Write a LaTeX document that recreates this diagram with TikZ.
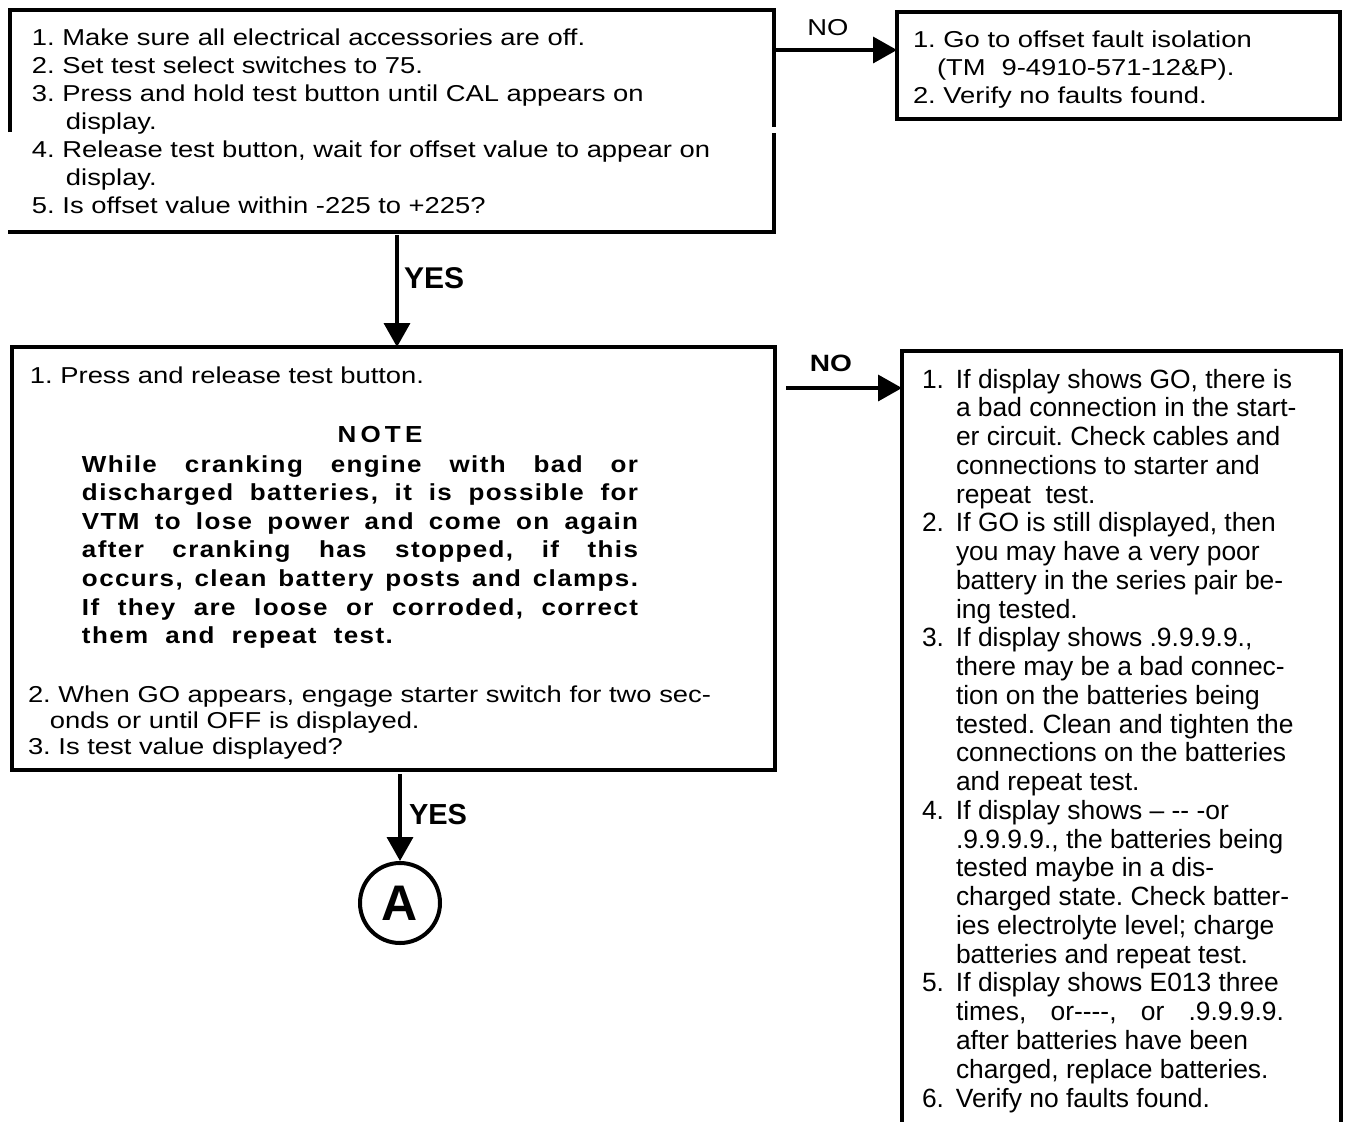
\documentclass[tikz,border=0pt]{standalone}
\usepackage{fontspec}
\setmainfont{Liberation Sans}
\newfontfamily\wfont[FakeStretch=1.19]{Liberation Sans}
\newfontfamily\nfont[FakeStretch=1.12,LetterSpace=6]{Liberation Sans}
\newfontfamily\hfont[FakeStretch=1.12,LetterSpace=18]{Liberation Sans}
\usetikzlibrary{arrows.meta,fit}
\frenchspacing
\newcommand\bxitm[1]{\makebox[17pt][l]{#1}}
\newcommand\bxind{\hspace*{17pt}}
\newcommand\njust[1]{\makebox[278pt][s]{#1}}
\tikzset{
  area/.style={inner sep=0pt, outer sep=0pt},
  border/.style={line width=2.4pt, line join=miter},
  arr/.style={line width=1.8pt, -{Triangle[length=12pt,width=13pt]}},
  txt/.style={anchor=north west, inner sep=0pt, outer sep=0pt, align=left},
  wtxt/.style={txt, font=\wfont\fontsize{11.5pt}{14pt}\selectfont},
  ntxt/.style={txt, font=\nfont\bfseries\fontsize{11.6pt}{14.3pt}\selectfont},
  rtxt/.style={txt, font=\fontsize{13.2pt}{14.38pt}\selectfont},
  lbl/.style={inner sep=0pt, outer sep=0pt, anchor=base west}
}
\begin{document}
\begin{tikzpicture}[x=0.5pt,y=-0.5pt]
\useasboundingbox (0,0) rectangle (1346,1121);

% box areas
\coordinate (b1nw) at (10,10);   \coordinate (b1se) at (774,232);
\coordinate (b2nw) at (897,12);  \coordinate (b2se) at (1340,119);
\coordinate (b3nw) at (12,347);  \coordinate (b3se) at (775,770);
\coordinate (b4nw) at (902,351); \coordinate (b4se) at (1341,1121);
\node[area, fit=(b1nw)(b1se)] (b1) {};
\node[area, fit=(b2nw)(b2se)] (b2) {};
\node[area, fit=(b3nw)(b3se)] (b3) {};
\node[area, fit=(b4nw)(b4se)] (b4) {};

% borders
\draw[border] (10,132) -- (b1nw) -- (774,10) -- (774,127);
\draw[border] (774,133) -- (b1se) -- (8,232);
\draw[border] (b2nw) rectangle (b2se);
\draw[border] (b3nw) rectangle (b3se);
\draw[border] (902,1125) -- (b4nw) -- (1341,351) -- (1341,1125);

% box 1 text
\node[wtxt] (t1) at (32,25) {\rule{0pt}{10pt}1. Make sure all electrical accessories are off.\\
2. Set test select switches to 75.\\
3. Press and hold test button until CAL appears on\\
\hspace*{17pt}display.\\
4. Release test button, wait for offset value to appear on\\
\hspace*{17pt}display.\\
5. Is offset value within -225 to +225?};

% box 2 text
\node[wtxt] (t2) at (913,27) {\rule{0pt}{10pt}1. Go to offset fault isolation\\
\hspace*{12pt}(TM\hspace{8pt}9-4910-571-12\&P).\\
2. Verify no faults found.};

% box 3 text
\node[wtxt] (t3a) at (30,363) {\rule{0pt}{10pt}1. Press and release test button.};
\node[inner sep=0pt, anchor=base, font=\hfont\bfseries\fontsize{11.6pt}{14pt}\selectfont] (t3h) at (380,442) {NOTE};
\node[ntxt] (t3n) at (82,452) {\rule{0pt}{10pt}\njust{While cranking engine with bad or}\\
\njust{discharged batteries, it is possible for}\\
\njust{VTM to lose power and come on again}\\
\njust{after cranking has stopped, if this}\\
\njust{occurs, clean battery posts and clamps.}\\
\njust{If they are loose or corroded, correct}\\
them\ \ and\ \ repeat\ \ test.};
\node[wtxt, font=\wfont\fontsize{11.5pt}{13pt}\selectfont] (t3b) at (28,682) {\rule{0pt}{10pt}2. When GO appears, engage starter switch for two sec-\\
\hspace*{11pt}onds or until OFF is displayed.\\
3. Is test value displayed?};

% box 4 text
\node[rtxt] (t4) at (922,366) {\rule{0pt}{11pt}\bxitm{1.}If display shows GO, there is\\
\bxind a bad connection in the start-\\
\bxind er circuit. Check cables and\\
\bxind connections to starter and\\
\bxind repeat\ \ test.\\
\bxitm{2.}If GO is still displayed, then\\
\bxind you may have a very poor\\
\bxind battery in the series pair be-\\
\bxind ing tested.\\
\bxitm{3.}If display shows .9.9.9.9.,\\
\bxind there may be a bad connec-\\
\bxind tion on the batteries being\\
\bxind tested. Clean and tighten the\\
\bxind connections on the batteries\\
\bxind and repeat test.\\
\bxitm{4.}If display shows – -{}- -or\\
\bxind .9.9.9.9., the batteries being\\
\bxind tested maybe in a dis-\\
\bxind charged state. Check batter-\\
\bxind ies electrolyte level; charge\\
\bxind batteries and repeat test.\\
\bxitm{5.}If display shows E013 three\\
\bxind \makebox[164pt][s]{times, or-{}-{}-{}-, or .9.9.9.9.}\\
\bxind after batteries have been\\
\bxind charged, replace batteries.\\
\bxitm{6.}Verify no faults found.};

% connector A
\node[circle, draw, line width=2pt, minimum size=40pt, inner sep=0pt,
      font=\bfseries\fontsize{25pt}{25pt}\selectfont] (A) at (400,903) {A};

% connectors
\coordinate (n1s) at (774,50);
\draw[arr] (n1s) -- (n1s -| b2.west);
\coordinate (n2s) at (786,388);
\draw[arr] (n2s) -- (n2s -| b4.west);
\coordinate (y1s) at (397,235);
\draw[arr] (y1s) -- (y1s |- b3.north);
\coordinate (y2s) at (400,774);
\draw[arr] (y2s) -- (A.north);

% labels
\node[lbl, anchor=base, font=\wfont\fontsize{11.5pt}{14pt}\selectfont] (no1) at (828,35) {NO};
\node[lbl, anchor=base, font=\wfont\bfseries\fontsize{11.8pt}{14pt}\selectfont] (no2) at (831,371) {NO};
\node[lbl, font=\bfseries\fontsize{15pt}{15pt}\selectfont] (yes1) at (404,288) {YES};
\node[lbl, font=\bfseries\fontsize{14.5pt}{15pt}\selectfont] (yes2) at (409,824) {YES};
\end{tikzpicture}
\end{document}
